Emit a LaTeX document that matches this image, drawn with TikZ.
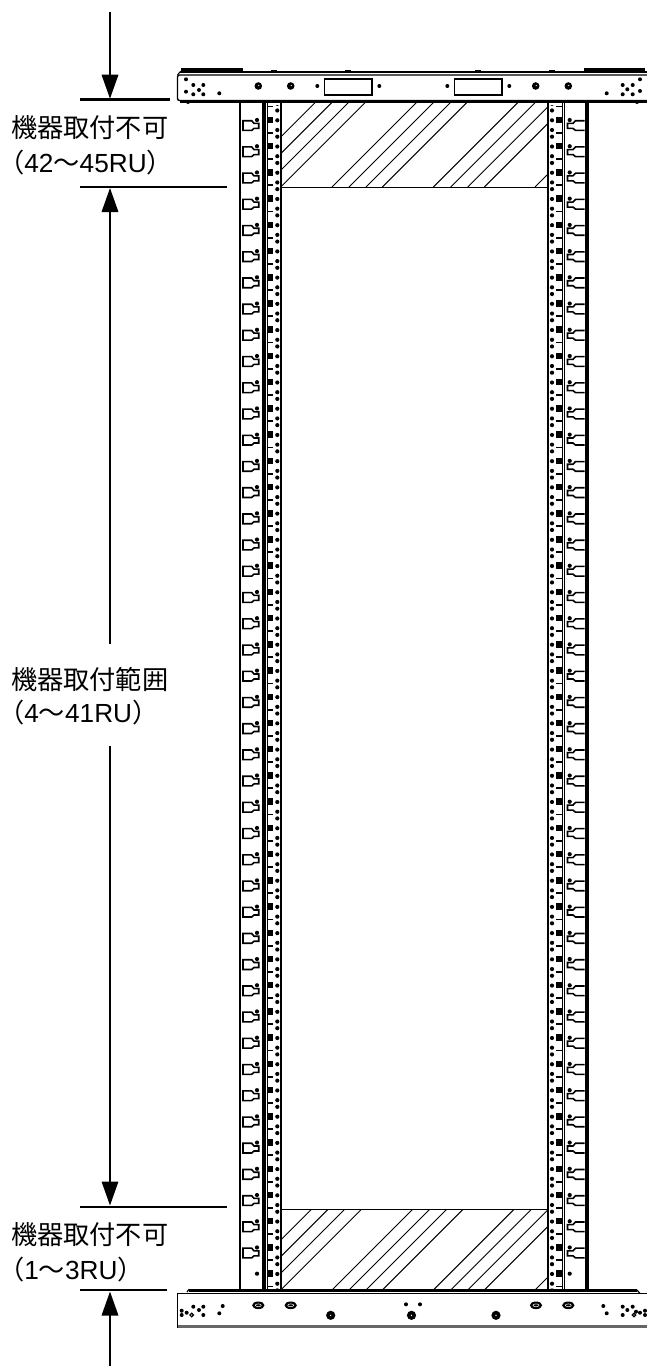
\documentclass[tikz,border=0pt]{standalone}
\usepackage{fontspec}
\setmainfont{Liberation Sans}
\newfontfamily\jpfont{Noto Sans CJK JP}
\usetikzlibrary{arrows.meta}
\tikzset{
  label text/.style={anchor=west, inner sep=0pt, font=\fontsize{26.2}{30}\selectfont},
  limit/.style={line width=2.5pt},
  dim/.style={line width=1.8pt, -{Triangle[length=24pt,width=16.5pt]}},
  rail/.style={line width=1.6pt},
  hook/.style={line width=1.6pt, line join=miter},
  hatch/.style={line width=1pt},
}
\begin{document}
\begin{tikzpicture}[x=1pt, y=-1pt]
  \useasboundingbox (0,0) rectangle (647,1366);

  % Montanti
  \draw[rail] (240,102) -- (240,1290);
  \fill (262,102) rectangle (265.7,1290);
  \draw[line width=1pt] (267,102) -- (267,1290);
  \draw[rail] (281,102) -- (281,1290);
  \draw[rail] (548,102) -- (548,1290);
  \draw[line width=1pt] (562,102) -- (562,1290);
  \draw[line width=1pt] (564.5,102) -- (564.5,1290);
  \fill (585.3,102) rectangle (589,1290);

  % Ganci
  \foreach \k [evaluate=\k as \hy using 125.7+\k*26.22] in {0,...,43} {
    \draw[hook] (243,\hy-5) -- (251.7,\hy-5) -- (254,\hy-2.3) -- (258.7,\hy-2.3)
      -- (258.7,\hy+2.7) -- (254,\hy+2.7) -- (251.7,\hy+4.7) -- (243,\hy+4.7) -- cycle;
    \draw[hook] (584.7,\hy-5) -- (575.5,\hy-5) -- (573,\hy-2.3) -- (567.5,\hy-2.3)
      -- (567.5,\hy+2.7) -- (573,\hy+2.7) -- (575.5,\hy+4.7) -- (584.7,\hy+4.7);
  }
  \foreach \k [evaluate=\k as \hy using 125.7+\k*26.22] in {0,...,44} {
    \fill (257,\hy-5.7) circle (2.1pt);
    \fill (569.7,\hy-5.7) circle (2.1pt);
  }

  % Fori
  \begin{scope}
    \clip (262,105) rectangle (589,1289);
    \foreach \k [evaluate=\k as \hy using 125.7+\k*26.22] in {-1,...,44} {
      \foreach \holex in {277.3,552} {
        \fill (\holex,\hy-5.4) circle (2.1pt);
        \fill (\holex,\hy+4.3) circle (2.1pt);
        \fill (\holex,\hy+11) circle (2.1pt);
      }
      \fill (267.5,\hy-9) rectangle (273,\hy-2.5);
      \fill (267.5,\hy+6.2) rectangle (273,\hy+8);
      \fill (556.3,\hy-9) rectangle (561.8,\hy-2.5);
      \fill (556.3,\hy+6.2) rectangle (562,\hy+8);
    }
  \end{scope}

  % Zone vietate
  \begin{scope}
    \clip (281,102) rectangle (548,187);
    \foreach \b in {230.7,247.3,264,280.7,332,349,366,382.3,433.3,450.7,467.7,484.3,535}
      \draw[hatch] (\b,187) -- (\b+100,87);
  \end{scope}
  \begin{scope}
    \clip (281,1209) rectangle (548,1290);
    \foreach \b in {230.7,247.3,264,280.7,332,349,366,382.3,433.3,450.7,467.7,484.3,535}
      \draw[hatch] (\b,1290) -- (\b+100,1190);
  \end{scope}
  \draw[line width=1pt] (281,187) -- (548,187);
  \draw[line width=1pt] (281,1209) -- (548,1209);

  % Traversa alta
  \draw[line width=1.8pt] (180,71.8) -- (647,71.8);
  \fill (180.7,68) rectangle (242.7,71.8);
  \fill (584,68) rectangle (645,71.8);
  \draw[line width=1.4pt, rounded corners=2pt] (647,75) -- (177.5,75) -- (177.5,100.5) -- (647,100.5);
  \fill (180,99.5) rectangle (647,102.5);
  \draw[line width=1pt, rounded corners=1pt] (177.5,75) -- (180,71.8);
  \foreach \bx in {274,348,478,551.7}
    \fill (\bx-3,71) rectangle (\bx+3,69.5);
  \foreach \px/\py in {186/79.3,193.3/85,203.3/85,199/90,186/91.7,193.3/94.3,203.3/94.3,219.3/93.3,
      317.3/86,379.3/86,447.3/86,509.3/86,606.7/93.3,640/79.3,622.7/85,632.7/85,627.3/89.3,
      640/91,622.7/94.3,632.7/94.3,188/102,637/102}
    \fill (\px,\py) circle (2pt);
  \foreach \px in {258.3,290.7,535.7,568.3} {
    \fill (\px,86) circle (3.8pt);
    \fill[white] (\px+0.5,85.5) circle (0.6pt);
  }
  \draw[line width=1.4pt] (324.3,79) rectangle (372,95);
  \draw[line width=1.4pt] (454.7,79) rectangle (502,95);

  % Traversa bassa
  \fill (189,1289.3) rectangle (637,1291.8);
  \draw[line width=1.2pt] (187,1292) -- (189,1289.3);
  \draw[line width=1.2pt] (637,1290) -- (640,1293.5);
  \draw[line width=1.4pt] (647,1293.5) -- (177.5,1293.5) -- (177.5,1327.5) -- (647,1327.5);
  \fill[black!60] (177.5,1325) rectangle (647,1328);
  \foreach \px/\py in {181.7/1310.7,181.7/1315,186.7/1312.7,193.3/1306.7,199/1310,203.3/1306.7,203.3/1315,
      222.7/1306,219.3/1313.3,406/1304.3,420/1304.3,603.3/1306,606.7/1313.3,622.7/1306.7,622.7/1315,
      627.3/1310,632.7/1306.7,636/1311.7,640/1312.7,645/1310.7,645/1315}
    \fill (\px,\py) circle (2pt);
  \foreach \px/\py in {191.7/1315,634/1315}
    \draw[line width=1.2pt] (\px,\py) circle (1.8pt);
  \foreach \px in {258.3,290.7,536,568.3} {
    \fill (\px,1305.3) ellipse (6.2pt and 3.8pt);
    \draw[white, line width=0.5pt] (\px,1305.3) ellipse (3pt and 1.4pt);
  }
  \foreach \px in {330.7,411.5,496} {
    \fill (\px,1315.3) circle (4.6pt);
    \fill[white] (\px,1315.3) circle (0.7pt);
  }

  % Quote
  \coordinate (upA) at (80,99.5);
  \coordinate (upB) at (170,99.5);
  \coordinate (midA) at (80,187);
  \coordinate (midB) at (227,187);
  \coordinate (lowA) at (80,1207);
  \coordinate (lowB) at (227,1207);
  \coordinate (botA) at (80,1290);
  \coordinate (botB) at (167,1290);
  \coordinate (topEnd) at (110,12);
  \coordinate (topTip) at (110,98.7);
  \coordinate (midEnd) at (110,644);
  \coordinate (midTip) at (110,188);
  \coordinate (lowEnd) at (110,746);
  \coordinate (lowTip) at (110,1205.5);
  \coordinate (botEnd) at (110,1366);
  \coordinate (botTip) at (110,1291.5);
  \draw[limit] (upA) -- (upB);
  \draw[limit] (midA) -- (midB);
  \draw[limit] (lowA) -- (lowB);
  \draw[limit] (botA) -- (botB);

  % Etichette
  \node[label text] (upTitle) at (11,128) {\jpfont 機器取付不可};
  \node[label text] (upRange) at (-2,163) {{\jpfont （}42{\jpfont 〜}45RU{\jpfont ）}};
  \node[label text] (midTitle) at (11,679) {\jpfont 機器取付範囲};
  \node[label text] (midRange) at (-2,713) {{\jpfont （}4{\jpfont 〜}41RU{\jpfont ）}};
  \node[label text] (botTitle) at (11,1235) {\jpfont 機器取付不可};
  \node[label text] (botRange) at (-2,1270) {{\jpfont （}1{\jpfont 〜}3RU{\jpfont ）}};

  % Frecce
  \draw[dim] (topEnd) -- (topTip);
  \draw[dim] (midEnd) -- (midTip);
  \draw[dim] (lowEnd) -- (lowTip);
  \draw[dim] (botEnd) -- (botTip);
\end{tikzpicture}
\end{document}
